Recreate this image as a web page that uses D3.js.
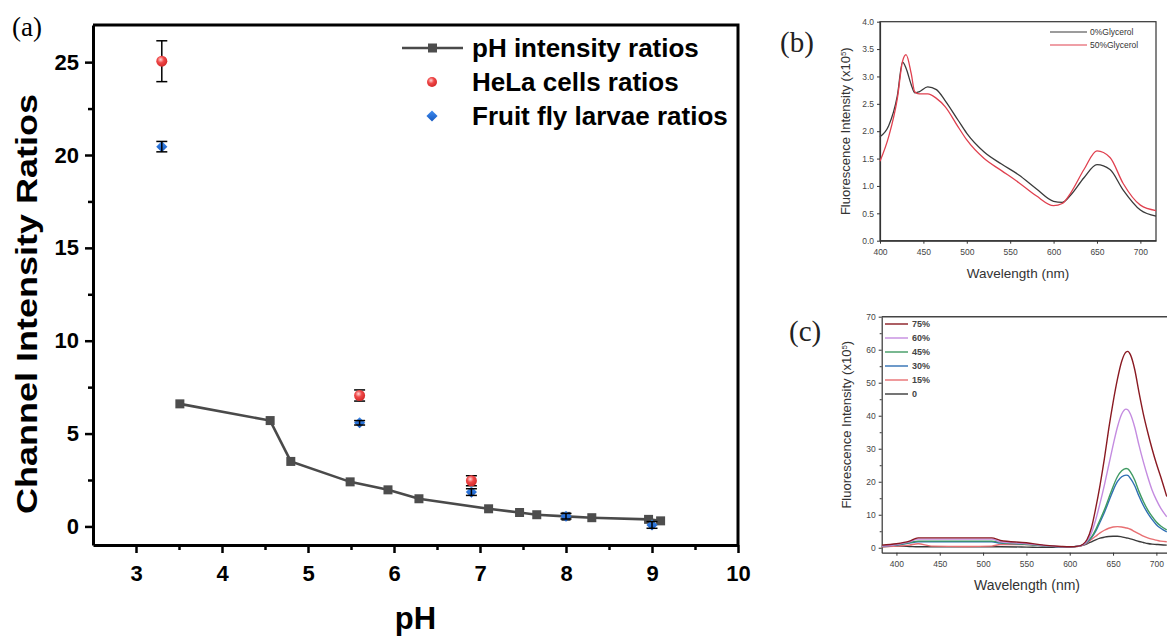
<!DOCTYPE html>
<html>
<head>
<meta charset="utf-8">
<script src="https://cdn.jsdelivr.net/npm/d3@7"></script>
<style>
  body { margin: 0; background: #fff; }
  svg { display: block; font-family: Arial, "Liberation Sans", sans-serif; }
</style>
</head>
<body>
<svg id="fig" width="1167" height="637"></svg>
<script>
// (a) pH calibration and in-vivo ratios
const phLine = [3.51, 4.56, 4.80, 5.49, 5.93, 6.29, 7.10, 7.46, 7.66, 8.00, 8.30, 8.96, 9.10];
const phRatio = [6.6, 5.7, 3.5, 2.4, 1.97, 1.49, 0.95, 0.75, 0.63, 0.54, 0.47, 0.38, 0.30];
const helaPh = [3.3, 5.6, 6.9];
const helaRatio = [25.05, 7.05, 2.46];
const helaErr = [1.1, 0.3, 0.27];
const flyPh = [3.3, 5.6, 6.9, 8.0, 9.0];
const flyRatio = [20.45, 5.58, 1.85, 0.55, 0.08];
const flyErr = [0.28, 0.12, 0.18, 0.15, 0.18];
const legendA = ["pH intensity ratios", "HeLa cells ratios", "Fruit fly larvae ratios"];

// (b) glycerol spectra
const wlB = [400, 410, 420, 426, 430, 436, 440, 445, 455, 465, 475, 490, 500, 520, 540, 560, 580, 600, 610, 620, 635, 650, 665, 680, 700, 718];
const gly0 = [1.90, 2.10, 2.65, 3.26, 3.15, 2.85, 2.70, 2.72, 2.81, 2.76, 2.56, 2.20, 1.96, 1.62, 1.40, 1.20, 0.95, 0.72, 0.70, 0.84, 1.15, 1.39, 1.30, 0.93, 0.56, 0.45];
const gly50 = [1.45, 1.90, 2.60, 3.28, 3.40, 3.05, 2.72, 2.68, 2.68, 2.60, 2.45, 2.08, 1.84, 1.50, 1.28, 1.06, 0.82, 0.64, 0.68, 0.88, 1.30, 1.64, 1.52, 1.05, 0.65, 0.55];
const legendB = ["0%Glycerol", "50%Glycerol"];

// (c) water fraction spectra
const wlC = [383, 400, 415, 425, 440, 480, 510, 520, 550, 570, 590, 600, 610, 615, 620, 625, 630, 635, 640, 645, 650, 655, 660, 665, 667, 670, 675, 680, 685, 690, 695, 700, 705, 712];
const c75 = [0.8, 1.2, 2.0, 3.0, 3.0, 3.0, 3.0, 2.2, 1.5, 0.8, 0.4, 0.3, 0.5, 1.0, 2.5, 6, 12, 19, 27, 36, 44, 51, 56.5, 59.3, 59.5, 58.5, 54, 47, 40.5, 35, 30, 25.5, 21.5, 15.5];
const c60 = [0.5, 1.0, 1.8, 2.6, 2.6, 2.6, 2.6, 1.8, 1.2, 0.7, 0.3, 0.3, 0.5, 0.9, 2.0, 4.5, 8.5, 13.5, 19, 25, 31, 36.5, 40.5, 42, 41.8, 40.5, 36.5, 31, 26, 21.5, 17.5, 14.5, 12, 9.4];
const c45 = [0.6, 0.9, 1.6, 2.0, 2.0, 2.0, 2.0, 1.6, 1.0, 0.6, 0.3, 0.3, 0.5, 0.9, 1.8, 3.2, 5.5, 8.5, 11.5, 15, 18.5, 21.5, 23.3, 24, 23.9, 23, 20.5, 17, 14, 11.5, 9.5, 7.8, 6.6, 5.4];
const c30 = [0.5, 0.8, 1.4, 1.8, 1.8, 1.8, 1.8, 1.4, 1.1, 0.6, 0.3, 0.3, 0.5, 0.9, 1.7, 3.0, 5.0, 7.8, 10.7, 14, 17.3, 20, 21.5, 22, 21.9, 21, 18.8, 15.6, 12.8, 10.5, 8.6, 7.0, 5.9, 4.8];
const c15 = [0.3, 0.5, 0.8, 1.2, 0.5, 0.4, 0.5, 1.0, 1.0, 0.6, 0.3, 0.2, 0.4, 0.8, 1.5, 2.5, 3.5, 4.5, 5.3, 5.9, 6.3, 6.4, 6.3, 6.0, 5.9, 5.6, 4.9, 4.2, 3.5, 3.0, 2.6, 2.3, 2.0, 1.8];
const c0 = [0.3, 0.5, 0.4, 0.3, 0.3, 0.3, 0.3, 0.3, 0.2, 0.1, 0.1, 0.2, 0.4, 0.7, 1.2, 1.8, 2.4, 2.9, 3.2, 3.4, 3.5, 3.5, 3.3, 3.0, 2.9, 2.7, 2.3, 1.9, 1.6, 1.3, 1.1, 1.0, 0.9, 0.8];
const legendC = ["75%", "60%", "45%", "30%", "15%", "0"];
const colorsC = ["#8a1a22", "#c48ce0", "#3f9a62", "#2f6fb4", "#e86f72", "#3a3a3a"];

const svg = d3.select("#fig");

// ---------- panel (a) ----------
const xA = d3.scaleLinear().domain([2.5, 10]).range([93, 738]);
const yA = d3.scaleLinear().domain([-1, 27]).range([545, 25]);

svg.append("text").attr("x", 12).attr("y", 36)
  .attr("font-family", "'Liberation Serif', 'Times New Roman', serif")
  .attr("font-size", 27).text("(a)");

// frame (top + right)
svg.append("path")
  .attr("d", `M${xA.range()[0]},${yA.range()[1]}H${xA.range()[1]}V${yA.range()[0]}`)
  .attr("fill", "none").attr("stroke", "#000").attr("stroke-width", 3);

function styleAxis(g, w) {
  g.select(".domain").attr("stroke", "#000").attr("stroke-width", w);
  g.selectAll(".tick line").attr("stroke", "#000").attr("stroke-width", w - 0.5);
}

const xAxisA = svg.append("g").attr("transform", `translate(0,${yA.range()[0]})`)
  .call(d3.axisBottom(xA).tickValues(d3.range(3, 10.01, 1)).tickSize(8).tickSizeOuter(0).tickPadding(12).tickFormat(d3.format("d")));
svg.append("g").attr("transform", `translate(0,${yA.range()[0]})`)
  .call(d3.axisBottom(xA).tickValues(d3.range(3.5, 9.6, 1)).tickSize(5).tickSizeOuter(0).tickFormat(""))
  .call(g => { g.select(".domain").remove(); g.selectAll("line").attr("stroke", "#000").attr("stroke-width", 2.5); });
styleAxis(xAxisA, 3);
xAxisA.selectAll("text").attr("font-size", 22).attr("font-weight", "bold").attr("fill", "#000");

const yAxisA = svg.append("g").attr("transform", `translate(${xA.range()[0]},0)`)
  .call(d3.axisLeft(yA).tickValues(d3.range(0, 25.1, 5)).tickSize(8).tickSizeOuter(0).tickPadding(6));
svg.append("g").attr("transform", `translate(${xA.range()[0]},0)`)
  .call(d3.axisLeft(yA).tickValues(d3.range(2.5, 25, 5)).tickSize(5).tickSizeOuter(0).tickFormat(""))
  .call(g => { g.select(".domain").remove(); g.selectAll("line").attr("stroke", "#000").attr("stroke-width", 2.5); });
styleAxis(yAxisA, 3);
yAxisA.selectAll("text").attr("font-size", 22).attr("font-weight", "bold").attr("fill", "#000");

svg.append("text")
  .attr("transform", "translate(37,304) rotate(-90)")
  .attr("text-anchor", "middle").attr("font-size", 30).attr("font-weight", "bold")
  .attr("textLength", 420).attr("lengthAdjust", "spacingAndGlyphs")
  .text("Channel Intensity Ratios");

svg.append("text").attr("x", (xA.range()[0] + xA.range()[1]) / 2).attr("y", 629)
  .attr("text-anchor", "middle").attr("font-size", 31).attr("font-weight", "bold").text("pH");

// gradients for markers
const defs = svg.append("defs");
const rg = defs.append("radialGradient").attr("id", "redBall").attr("cx", "40%").attr("cy", "35%").attr("r", "65%");
rg.append("stop").attr("offset", "0%").attr("stop-color", "#ffd6d6");
rg.append("stop").attr("offset", "45%").attr("stop-color", "#f04848");
rg.append("stop").attr("offset", "100%").attr("stop-color", "#d42a2a");
const bg = defs.append("linearGradient").attr("id", "blueDia").attr("x1", 0).attr("y1", 0).attr("x2", 1).attr("y2", 1);
bg.append("stop").attr("offset", "0%").attr("stop-color", "#3f8cf0");
bg.append("stop").attr("offset", "100%").attr("stop-color", "#1558c0");

// line series
const lineA = d3.line().x((d, i) => xA(phLine[i])).y(d => yA(d));
svg.append("path").datum(phRatio).attr("d", lineA)
  .attr("fill", "none").attr("stroke", "#4a4a4a").attr("stroke-width", 2.6);
svg.selectAll(".sq").data(phRatio).join("rect")
  .attr("x", (d, i) => xA(phLine[i]) - 4.5).attr("y", d => yA(d) - 4.5)
  .attr("width", 9).attr("height", 9).attr("fill", "#4d4d4d");

function errBars(xs, ys, es) {
  const g = svg.append("g").attr("stroke", "#000").attr("stroke-width", 1.5);
  ys.forEach((v, i) => {
    const x = xA(xs[i]);
    g.append("line").attr("x1", x).attr("x2", x).attr("y1", yA(v - es[i])).attr("y2", yA(v + es[i]));
    [v - es[i], v + es[i]].forEach(e =>
      g.append("line").attr("x1", x - 5.5).attr("x2", x + 5.5).attr("y1", yA(e)).attr("y2", yA(e)));
  });
}

errBars(helaPh, helaRatio, helaErr);
svg.selectAll(".hela").data(helaRatio).join("circle")
  .attr("cx", (d, i) => xA(helaPh[i])).attr("cy", d => yA(d)).attr("r", 5.5)
  .attr("fill", "url(#redBall)");

// diamond = square turned 45 degrees
const diamond = d3.symbol().type(d3.symbolSquare).size(62);
svg.selectAll(".fly").data(flyRatio).join("path")
  .attr("transform", (d, i) => `translate(${xA(flyPh[i])},${yA(d)}) rotate(45)`)
  .attr("d", diamond).attr("fill", "url(#blueDia)");
errBars(flyPh, flyRatio, flyErr);

// legend (a)
const legA = svg.append("g").attr("transform", "translate(402,0)");
const legRows = [48, 82, 116];
legA.append("line").attr("x1", 0).attr("x2", 61).attr("y1", legRows[0]).attr("y2", legRows[0])
  .attr("stroke", "#4a4a4a").attr("stroke-width", 2.6);
legA.append("rect").attr("x", 26).attr("y", legRows[0] - 4.5).attr("width", 9).attr("height", 9).attr("fill", "#4d4d4d");
legA.append("circle").attr("cx", 30).attr("cy", legRows[1]).attr("r", 5).attr("fill", "url(#redBall)");
legA.append("path").attr("transform", `translate(30,${legRows[2]}) rotate(45)`).attr("d", diamond).attr("fill", "url(#blueDia)");
legA.selectAll("text").data(legendA).join("text")
  .attr("x", 70).attr("y", (d, i) => legRows[i]).attr("dy", "0.36em")
  .attr("font-size", 26).attr("font-weight", "bold").text(d => d);

// ---------- panel (b) ----------
const xB = d3.scaleLinear().domain([400, 718]).range([880, 1156]);
const yB = d3.scaleLinear().domain([0, 4]).range([240.7, 21.7]);

svg.append("text").attr("x", 780).attr("y", 52)
  .attr("font-family", "'Liberation Serif', 'Times New Roman', serif")
  .attr("font-size", 29).attr("fill", "#222").text("(b)");

svg.append("rect").attr("x", xB.range()[0]).attr("y", yB.range()[1])
  .attr("width", xB.range()[1] - xB.range()[0]).attr("height", yB.range()[0] - yB.range()[1])
  .attr("fill", "none").attr("stroke", "#333").attr("stroke-width", 1.2);

function smallAxis(g) {
  g.select(".domain").attr("stroke", "#333").attr("stroke-width", 1.2);
  g.selectAll(".tick line").attr("stroke", "#333");
  g.selectAll("text").attr("font-size", 8.5).attr("fill", "#444");
}
svg.append("g").attr("transform", `translate(0,${yB.range()[0]})`)
  .call(d3.axisBottom(xB).tickValues(d3.range(400, 701, 50)).tickSize(3).tickSizeOuter(0).tickPadding(5))
  .call(smallAxis);
svg.append("g").attr("transform", `translate(${xB.range()[0]},0)`)
  .call(d3.axisLeft(yB).tickValues(d3.range(0, 4.01, 0.5)).tickSize(3).tickSizeOuter(0).tickPadding(3).tickFormat(d3.format(".1f")))
  .call(smallAxis);

svg.append("text").attr("transform", `translate(850,${(yB.range()[0] + yB.range()[1]) / 2}) rotate(-90)`)
  .attr("text-anchor", "middle").attr("font-size", 13).attr("fill", "#333")
  .html("Fluorescence Intensity (x10<tspan dy='-4' font-size='8'>5</tspan><tspan dy='4'>)</tspan>");
svg.append("text").attr("x", (xB.range()[0] + xB.range()[1]) / 2).attr("y", 278)
  .attr("text-anchor", "middle").attr("font-size", 13.5).attr("fill", "#333").text("Wavelength (nm)");

const lineB = d3.line().curve(d3.curveMonotoneX).x((d, i) => xB(wlB[i])).y(d => yB(d));
[[gly0, "#3a3a3a"], [gly50, "#e0404f"]].forEach(([s, c]) =>
  svg.append("path").datum(s).attr("d", lineB).attr("fill", "none").attr("stroke", c).attr("stroke-width", 1.3));

const legB = svg.append("g");
legendB.forEach((t, i) => {
  const y = 32 + i * 13;
  legB.append("line").attr("x1", 1050).attr("x2", 1087).attr("y1", y).attr("y2", y)
    .attr("stroke", i ? "#e0404f" : "#3a3a3a").attr("stroke-width", 1.2);
  legB.append("text").attr("x", 1090).attr("y", y).attr("dy", "0.35em")
    .attr("font-size", 8.5).attr("fill", "#333").text(t);
});

// ---------- panel (c) ----------
const xC = d3.scaleLinear().domain([383, 750]).range([881.7, 1199.7]);
const yC = d3.scaleLinear().domain([-1.5, 70]).range([552.7, 316.7]);

svg.append("text").attr("x", 789).attr("y", 341)
  .attr("font-family", "'Liberation Serif', 'Times New Roman', serif")
  .attr("font-size", 29).attr("fill", "#222").text("(c)");

svg.append("line").attr("x1", xC.range()[0]).attr("x2", xC.range()[1])
  .attr("y1", yC.range()[1]).attr("y2", yC.range()[1]).attr("stroke", "#444").attr("stroke-width", 1.6);

svg.append("g").attr("transform", `translate(0,${yC.range()[0]})`)
  .call(d3.axisBottom(xC).tickValues(d3.range(400, 701, 50)).tickSize(3).tickSizeOuter(0).tickPadding(5))
  .call(smallAxis);
svg.append("g").attr("transform", `translate(${xC.range()[0]},0)`)
  .call(d3.axisLeft(yC).tickValues(d3.range(0, 70.1, 10)).tickSize(3).tickSizeOuter(0).tickPadding(3))
  .call(smallAxis);
svg.append("g").attr("transform", `translate(${xC.range()[0]},0)`)
  .call(d3.axisLeft(yC).tickValues(d3.range(5, 70, 10)).tickSize(2).tickSizeOuter(0).tickFormat(""))
  .call(g => { g.select(".domain").remove(); g.selectAll("line").attr("stroke", "#333"); });

svg.append("text").attr("transform", `translate(851,${(yC.range()[0] + yC.range()[1]) / 2 - 10}) rotate(-90)`)
  .attr("text-anchor", "middle").attr("font-size", 13).attr("fill", "#333")
  .html("Fluorescence Intensity (x10<tspan dy='-4' font-size='8'>5</tspan><tspan dy='4'>)</tspan>");
svg.append("text").attr("x", 1027).attr("y", 590)
  .attr("text-anchor", "middle").attr("font-size", 14).attr("fill", "#333").text("Wavelength (nm)");

defs.append("clipPath").attr("id", "clipC").append("rect")
  .attr("x", xC.range()[0]).attr("y", yC.range()[1])
  .attr("width", xC.range()[1] - xC.range()[0]).attr("height", yC.range()[0] - yC.range()[1]);
const lineC = d3.line().curve(d3.curveMonotoneX).x((d, i) => xC(wlC[i])).y(d => yC(d));
const gC = svg.append("g").attr("clip-path", "url(#clipC)");
[c0, c15, c30, c45, c60, c75].forEach((s, k) =>
  gC.append("path").datum(s).attr("d", lineC).attr("fill", "none")
    .attr("stroke", colorsC[5 - k]).attr("stroke-width", 1.4));

const legC = svg.append("g");
legendC.forEach((t, i) => {
  const y = 324 + i * 14;
  legC.append("line").attr("x1", 885).attr("x2", 908).attr("y1", y).attr("y2", y)
    .attr("stroke", colorsC[i]).attr("stroke-width", 1.4);
  legC.append("text").attr("x", 912).attr("y", y).attr("dy", "0.35em")
    .attr("font-size", 9).attr("font-weight", "bold").attr("fill", "#444").text(t);
});
</script>
</body>
</html>
